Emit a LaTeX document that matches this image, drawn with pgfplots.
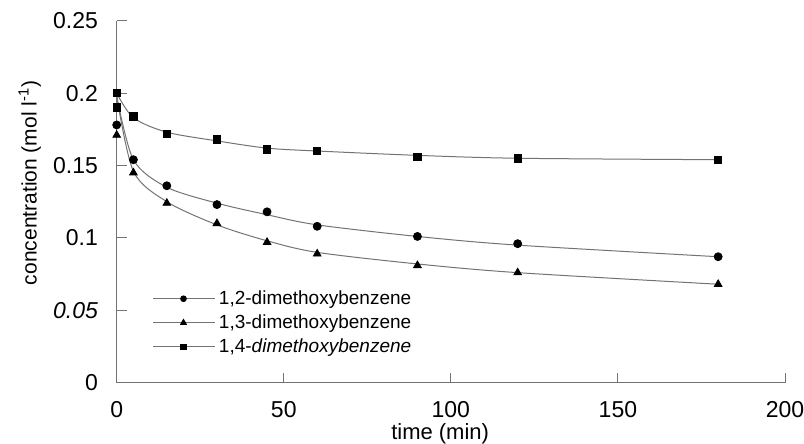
\documentclass[border=0pt]{standalone}
\usepackage{fontspec}
\setmainfont{Liberation Sans}
\usepackage{pgfplots}
\pgfplotsset{compat=1.18}
\definecolor{curvegray}{gray}{0.45}
\definecolor{axisgray}{gray}{0.45}
\begin{document}
\begin{tikzpicture}
\useasboundingbox (-58.35pt,-30.65pt) rectangle (343.65pt,191.35pt);
\begin{axis}[
  at={(0pt,0pt)}, anchor=south west,
  scale only axis, width=334.15pt, height=181pt,
  xmin=0, xmax=200, ymin=0, ymax=0.25,
  axis x line=bottom, axis y line=left,
  axis line style={-, axisgray, line width=0.5pt},
  tick align=inside, major tick length=5pt,
  tick style={axisgray, line width=0.5pt},
  xtick={0,50,100,150,200},
  xticklabels={0,50,100,150,200},
  ytick={0,0.05,0.1,0.15,0.2,0.25},
  yticklabels={0,\textit{0.05},0.1,0.15,0.2,0.25},
  ticklabel style={font=\fontsize{11.5}{13}\selectfont, inner sep=0pt},
  xticklabel style={anchor=north, yshift=-9pt},
  yticklabel style={anchor=east, xshift=-9.2pt},
  xlabel={time (min)},
  ylabel={concentration (mol l\textsuperscript{-1})},
  every axis x label/.style={at={(axis description cs:0.484,0)}, anchor=north, inner sep=0pt, yshift=-20.4pt, font=\fontsize{11}{13}\selectfont},
  every axis y label/.style={at={(axis description cs:-0.13,0.552)}, anchor=center, rotate=90, font=\fontsize{10.5}{12}\selectfont},
  legend image code/.code={\draw[#1, mark repeat=2, mark phase=2] plot coordinates {(0pt,0pt) (15pt,0pt) (31pt,0pt)};},
  legend style={draw=none, fill=none, at={(axis description cs:0.0543,0.1657)}, anchor=west,
    inner sep=0pt, outer sep=0pt, row sep=3.6pt, column sep=1.5pt,
    font=\fontsize{9.5}{11}\selectfont, nodes={inner sep=0pt}},
  legend cell align=left,
]
% fitted curves
\addplot[curvegray, line width=0.5pt, smooth, forget plot] coordinates {
(0,0.198) (5,0.154) (15,0.135) (30,0.124) (45,0.116) (60,0.109) (90,0.101) (120,0.095) (180,0.087)};
\addplot[curvegray, line width=0.5pt, smooth, forget plot] coordinates {
(0,0.198) (5,0.146) (15,0.125) (30,0.109) (45,0.098) (60,0.090) (90,0.082) (120,0.076) (180,0.068)};
\addplot[curvegray, line width=0.5pt, smooth, forget plot] coordinates {
(0,0.200) (5,0.183) (15,0.173) (30,0.167) (45,0.162) (60,0.160) (90,0.157) (120,0.155) (180,0.154)};
% data points
\addplot[only marks, mark=*, mark size=2pt, black, forget plot] coordinates {
(0,0.178) (5,0.154) (15,0.136) (30,0.123) (45,0.118) (60,0.108) (90,0.101) (120,0.096) (180,0.087)};
\addplot[only marks, mark=triangle*, mark size=2.2pt, black, forget plot] coordinates {
(0,0.171) (5,0.145) (15,0.124) (30,0.110) (45,0.097) (60,0.089) (90,0.081) (120,0.076) (180,0.068)};
\addplot[only marks, mark=square*, mark size=1.85pt, black, forget plot] coordinates {
(0,0.200) (0,0.190) (5,0.184) (15,0.172) (30,0.168) (45,0.161) (60,0.160) (90,0.156) (120,0.155) (180,0.154)};
% legend
\addlegendimage{curvegray, line width=0.5pt, mark=*, mark size=1.4pt, mark options={black, fill=black}}
\addlegendentry{1,2-dimethoxybenzene}
\addlegendimage{curvegray, line width=0.5pt, mark=triangle*, mark size=1.6pt, mark options={black, fill=black}}
\addlegendentry{1,3-dimethoxybenzene}
\addlegendimage{curvegray, line width=0.5pt, mark=square*, mark size=1.3pt, mark options={black, fill=black}}
\addlegendentry{1,4-\textit{dimethoxybenzene}}
\end{axis}
\end{tikzpicture}
\end{document}
